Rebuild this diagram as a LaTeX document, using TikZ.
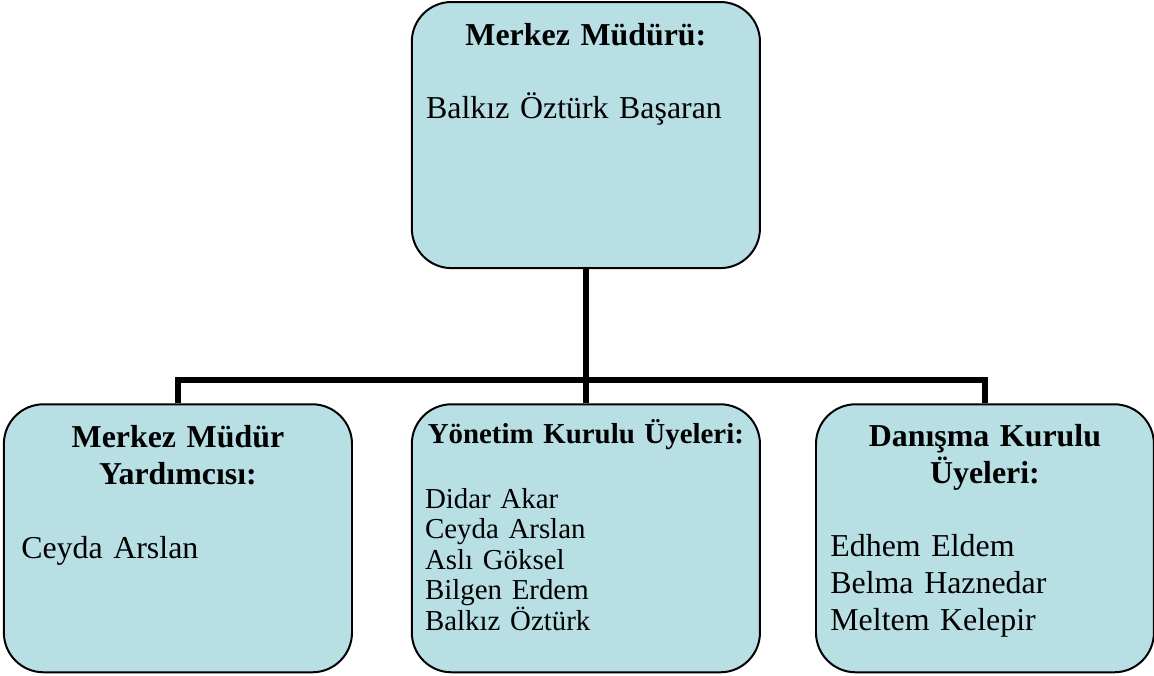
\documentclass[tikz,border=0pt]{standalone}
\usepackage{fontspec}
\setmainfont{Liberation Serif}
\usetikzlibrary{positioning}
\definecolor{kutumavi}{HTML}{B8DFE4}

\begin{document}
\begin{tikzpicture}[
  kutu/.style={draw, line width=1.5pt, rounded corners=1.05cm, fill=kutumavi,
               minimum width=9.21cm, minimum height=7.09cm, inner sep=0pt},
  buyuk/.style={font=\fontsize{24}{27.75}\selectfont},
  kucuk/.style={font=\fontsize{21.75}{23}\selectfont},
  baslik/.style={buyuk, align=center, text width=8.6cm, inner sep=0pt,
                 execute at begin node=\bfseries},
  isim/.style={buyuk, align=left, text width=8cm, inner sep=0pt},
  hat/.style={line width=4pt},
  node distance=3.55cm and 1.5cm
]
  \useasboundingbox (0,0) rectangle (30.53,-17.86);

  %--- kutular
  \node[kutu, minimum height=7.04cm] (dir)     at (15.50,-3.573) {};
  \node[kutu, below=of dir]          (yonetim) {};
  \node[kutu, left=1.53cm of yonetim]  (yard)    {};
  \node[kutu, right=1.43cm of yonetim, minimum width=8.94cm] (danisma) {};

  %--- baglantilar
  \coordinate (dugum) at (15.50,-10.05);
  \draw[hat] (dir.south) -- (yonetim.north);
  \draw[hat] (yard.north) |- (dugum) -| (danisma.north);

  %--- Merkez Mudur
  \node[baslik, below=1.164cm of dir.north, anchor=base] (dirbas) {Merkez Müdürü:};
  \node[isim, below right=3.10cm and 0.40cm of dir.north west, anchor=base west]
    (dirisim) {Balkız Öztürk Başaran};

  % Mudur yardimcisi
  \node[baslik, below=1.164cm of yard.north, anchor=base] (yardbas)
    {Merkez Müdür\\Yardımcısı:};
  \node[isim, below right=4.10cm and 0.48cm of yard.north west, anchor=base west]
    (yardisim) {Ceyda Arslan};

  % Yonetim kurulu
  \node[baslik, kucuk, below=1.06cm of yonetim.north, anchor=base] (yonbas)
    {Yönetim Kurulu Üyeleri:};
  \node[isim, kucuk, below right=2.77cm and 0.37cm of yonetim.north west, anchor=base west]
    (yonisim) {Didar Akar\\Ceyda Arslan\\Aslı Göksel\\Bilgen Erdem\\Balkız Öztürk};

  % Danisma kurulu
  \node[baslik, below=1.14cm of danisma.north, anchor=base] (danbas)
    {Danışma Kurulu\\Üyeleri:};
  \node[isim, below right=4.05cm and 0.40cm of danisma.north west, anchor=base west]
    (danisim) {Edhem Eldem\\Belma Haznedar\\Meltem Kelepir};

\end{tikzpicture}
\end{document}
